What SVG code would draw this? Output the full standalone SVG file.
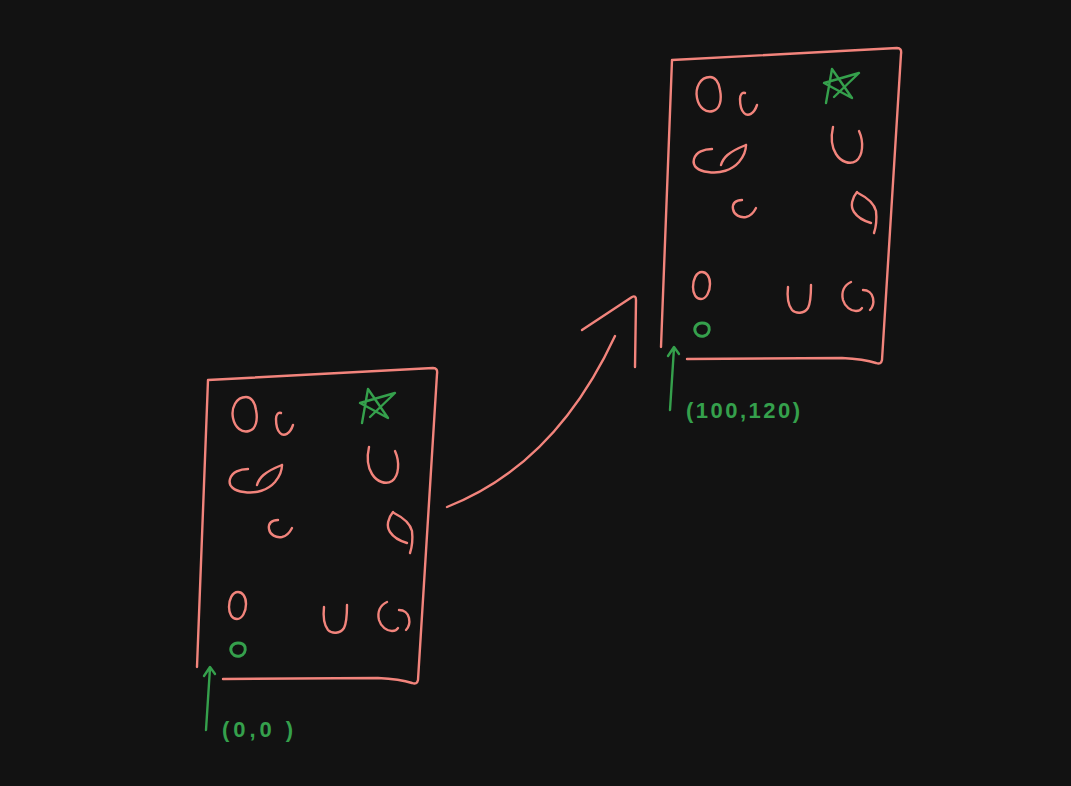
<svg xmlns="http://www.w3.org/2000/svg" xmlns:xlink="http://www.w3.org/1999/xlink" width="1071" height="786" viewBox="0 0 1071 786">
<style>
.r{fill:none;stroke:#f2847c;stroke-width:2.4;stroke-linecap:round;stroke-linejoin:round}
.g{fill:none;stroke:#35a04c;stroke-width:2.4;stroke-linecap:round;stroke-linejoin:round}
.gt{fill:#35a04c;font-family:"Liberation Sans",Arial,sans-serif;font-size:22px;font-weight:bold}
</style>
<defs>
<g id="page">
<path class="r" d="M197,667 L208,380 L433,368 Q438,368 437,374 L418,680 Q417,685 412,683 Q400,679 378,678 L223,679"/>
<path class="r" d="M246,397 C236,397 231,408 233,418 C235,428 242,433 249,431 C256,429 258,420 256,410 C255,402 251,397 246,397 Z"/>
<path class="r" d="M281,413 C278,412 276,415 276,419 C276,425 277,430 280,433 C284,437 290,434 293,425"/>
<path class="g" d="M362,423 L368,389 L388,418 L360,403 L395,393 L370,417"/>
<path class="r" d="M248,469 C240,469 232,472 230,479 C228,486 234,491 244,492 C256,494 268,490 275,482 C280,476 282,470 282,465"/>
<path class="r" d="M257,485 C259,478 264,472 282,465"/>
<path class="r" d="M369,447 C367,456 367,466 372,474 C377,482 386,485 392,481 C399,476 400,462 395,451"/>
<path class="r" d="M278,520 C272,520 268,523 269,529 C270,535 276,538 282,537 C287,536 290,532 292,528"/>
<path class="r" d="M393,512 C388,518 386,526 390,532 C394,538 400,541 407,543"/>
<path class="r" d="M394,513 C402,517 410,523 412,531 C413,540 412,547 410,553"/>
<path class="r" d="M238,592 C232,592 229,600 229,607 C229,614 232,619 237,619 C242,619 246,612 246,604 C246,596 242,592 238,592"/>
<path class="r" d="M324,607 C323,616 324,625 328,630 C332,634 340,634 344,628 C347,622 347,613 347,605"/>
<path class="r" d="M387,602 C380,605 377,612 379,620 C381,627 387,631 392,631 C395,631 397,630 398,628"/>
<path class="r" d="M399,610 C404,610 408,613 409,618 C410,623 409,627 406,630"/>
<path class="g" style="stroke-width:3" d="M238,643 C233,643 230,647 231,651 C232,655 236,657 240,656 C244,655 246,651 245,647 C244,644 241,643 238,643"/>
<path class="g" d="M206,730 L210,668 M204,676 L210,667 L215,674"/>
</g>
</defs>
<rect width="1071" height="786" fill="#121212"/>
<g id="page-left">
<use href="#page" xlink:href="#page"/>
<text class="gt" x="222" y="737" textLength="71" lengthAdjust="spacing">(0,0 )</text>
</g>
<g id="page-right">
<use href="#page" xlink:href="#page" transform="translate(464,-320)"/>
<text class="gt" x="686" y="418" textLength="114" lengthAdjust="spacing">(100,120)</text>
</g>
<g id="connectors">
<path class="r" d="M447,507 Q555,465 615,336"/>
<path class="r" d="M582,330 L632,297 Q636,295 636,300 L635,367"/>
</g>
</svg>
